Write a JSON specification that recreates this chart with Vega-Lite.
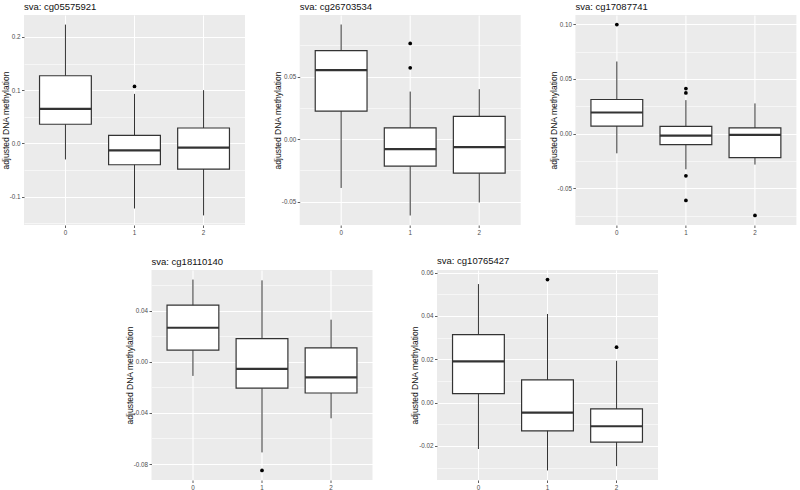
{
  "$schema": "https://vega.github.io/schema/vega-lite/v6.json",
  "padding": {"left": 1, "top": 1, "right": 0, "bottom": 0},
  "autosize": {"type": "pad"},
  "datasets": {
    "boxes": [
      {"probe": "cg05575921", "group": "0", "lower": -0.030, "q1": 0.036, "median": 0.065, "q3": 0.127, "upper": 0.223},
      {"probe": "cg05575921", "group": "1", "lower": -0.122, "q1": -0.040, "median": -0.013, "q3": 0.015, "upper": 0.093},
      {"probe": "cg05575921", "group": "2", "lower": -0.135, "q1": -0.048, "median": -0.008, "q3": 0.029, "upper": 0.100},
      {"probe": "cg26703534", "group": "0", "lower": -0.039, "q1": 0.0224, "median": 0.0551, "q3": 0.0707, "upper": 0.0916},
      {"probe": "cg26703534", "group": "1", "lower": -0.061, "q1": -0.0216, "median": -0.008, "q3": 0.009, "upper": 0.038},
      {"probe": "cg26703534", "group": "2", "lower": -0.0506, "q1": -0.0272, "median": -0.0064, "q3": 0.0182, "upper": 0.0399},
      {"probe": "cg17087741", "group": "0", "lower": -0.018, "q1": 0.0069, "median": 0.0193, "q3": 0.0312, "upper": 0.0659},
      {"probe": "cg17087741", "group": "1", "lower": -0.0326, "q1": -0.010, "median": -0.0018, "q3": 0.0066, "upper": 0.0306},
      {"probe": "cg17087741", "group": "2", "lower": -0.0283, "q1": -0.0219, "median": -0.0012, "q3": 0.0052, "upper": 0.0276},
      {"probe": "cg18110140", "group": "0", "lower": -0.0110, "q1": 0.0091, "median": 0.0267, "q3": 0.0444, "upper": 0.0644},
      {"probe": "cg18110140", "group": "1", "lower": -0.0709, "q1": -0.0206, "median": -0.0055, "q3": 0.0182, "upper": 0.0638},
      {"probe": "cg18110140", "group": "2", "lower": -0.0442, "q1": -0.0244, "median": -0.0122, "q3": 0.0109, "upper": 0.033},
      {"probe": "cg10765427", "group": "0", "lower": -0.0214, "q1": 0.0042, "median": 0.019, "q3": 0.0314, "upper": 0.0547},
      {"probe": "cg10765427", "group": "1", "lower": -0.0313, "q1": -0.0130, "median": -0.0046, "q3": 0.0105, "upper": 0.0409},
      {"probe": "cg10765427", "group": "2", "lower": -0.0293, "q1": -0.0182, "median": -0.0109, "q3": -0.0029, "upper": 0.0193}
    ],
    "outliers": [
      {"probe": "cg05575921", "group": "1", "value": 0.107},
      {"probe": "cg26703534", "group": "1", "value": 0.0765},
      {"probe": "cg26703534", "group": "1", "value": 0.057},
      {"probe": "cg17087741", "group": "0", "value": 0.0997},
      {"probe": "cg17087741", "group": "1", "value": 0.0412},
      {"probe": "cg17087741", "group": "1", "value": 0.0372},
      {"probe": "cg17087741", "group": "1", "value": -0.0385},
      {"probe": "cg17087741", "group": "1", "value": -0.061},
      {"probe": "cg17087741", "group": "2", "value": -0.0748},
      {"probe": "cg18110140", "group": "1", "value": -0.085},
      {"probe": "cg10765427", "group": "1", "value": 0.0568},
      {"probe": "cg10765427", "group": "2", "value": 0.0256}
    ]
  },
  "config": {
    "locale": {"number": {"decimal": ".", "thousands": ",", "grouping": [3], "currency": ["$", ""], "minus": "-"}},
    "view": {"fill": "#EBEBEB", "stroke": null},
    "font": "Liberation Sans",
    "axis": {
      "domain": false, "gridColor": "#FFFFFF", "tickColor": "#333333", "tickSize": 2.5, "tickWidth": 0.8,
      "labelColor": "#4D4D4D", "labelFontSize": 6.3, "labelPadding": 1.5, "labelFont": "Liberation Sans", "labelOverlap": false,
      "titleFontSize": 8.5, "titleFontWeight": "normal", "titleColor": "#111111", "titleFont": "Liberation Sans"
    },
    "title": {"anchor": "start", "fontSize": 9.5, "fontWeight": "normal", "color": "#111111", "offset": 4, "frame": "group", "font": "Liberation Sans"}
  },
  "spacing": 20,
  "vconcat": [
    {
      "spacing": 54.7,
      "bounds": "flush",
      "hconcat": [
        {
          "width": 221, "height": 210,
          "title": {"text": "sva: cg05575921"},
          "resolve": {"axis": {"y": "independent"}},
          "encoding": {"x": {"field": "group", "type": "nominal", "scale": {"type": "band", "paddingInner": 0, "paddingOuter": 0.1}, "axis": {"labelAngle": 0, "title": null, "grid": true, "gridWidth": 1.1, "bandPosition": 0.5}}},
          "layer": [
            {"data": {"name": "boxes"}, "transform": [{"filter": "datum.probe === 'cg05575921'"}],
             "mark": {"type": "rule", "color": "#333333", "strokeWidth": 1},
             "encoding": {"y": {"field": "lower", "type": "quantitative", "scale": {"domain": [-0.153, 0.241], "nice": false, "zero": false},
               "axis": {"orient": "right", "values": [0.15, 0.05, -0.05, -0.15], "labels": false, "ticks": false, "title": null, "grid": true, "gridWidth": 0.55}},
               "y2": {"field": "upper"}}},
            {"data": {"name": "boxes"}, "transform": [{"filter": "datum.probe === 'cg05575921'"}],
             "mark": {"type": "bar", "fill": "#FFFFFF", "stroke": "#333333", "strokeWidth": 1.2, "width": {"band": 0.75}},
             "encoding": {"y": {"field": "q1", "type": "quantitative", "axis": {"orient": "left", "values": [0.2, 0.1, 0, -0.1], "format": ".1f", "title": "adjusted DNA methylation", "titlePadding": -1, "grid": true, "gridWidth": 1.1}}, "y2": {"field": "q3"}}},
            {"data": {"name": "boxes"}, "transform": [{"filter": "datum.probe === 'cg05575921'"}],
             "mark": {"type": "tick", "color": "#333333", "thickness": 2.2, "size": 52, "opacity": 1},
             "encoding": {"y": {"field": "median", "type": "quantitative", "axis": null}}},
            {"data": {"name": "outliers"}, "transform": [{"filter": "datum.probe === 'cg05575921'"}],
             "mark": {"type": "circle", "color": "#000000", "size": 14, "opacity": 1},
             "encoding": {"y": {"field": "value", "type": "quantitative", "axis": null}}}
          ]
        },
        {
          "width": 221, "height": 210,
          "title": {"text": "sva: cg26703534"},
          "resolve": {"axis": {"y": "independent"}},
          "encoding": {"x": {"field": "group", "type": "nominal", "scale": {"type": "band", "paddingInner": 0, "paddingOuter": 0.1}, "axis": {"labelAngle": 0, "title": null, "grid": true, "gridWidth": 1.1, "bandPosition": 0.5}}},
          "layer": [
            {"data": {"name": "boxes"}, "transform": [{"filter": "datum.probe === 'cg26703534'"}],
             "mark": {"type": "rule", "color": "#333333", "strokeWidth": 1},
             "encoding": {"y": {"field": "lower", "type": "quantitative", "scale": {"domain": [-0.0686, 0.0992], "nice": false, "zero": false},
               "axis": {"orient": "right", "values": [0.075, 0.025, -0.025], "labels": false, "ticks": false, "title": null, "grid": true, "gridWidth": 0.55}},
               "y2": {"field": "upper"}}},
            {"data": {"name": "boxes"}, "transform": [{"filter": "datum.probe === 'cg26703534'"}],
             "mark": {"type": "bar", "fill": "#FFFFFF", "stroke": "#333333", "strokeWidth": 1.2, "width": {"band": 0.75}},
             "encoding": {"y": {"field": "q1", "type": "quantitative", "axis": {"orient": "left", "values": [0.05, 0, -0.05], "format": ".2f", "title": "adjusted DNA methylation", "titlePadding": -1, "grid": true, "gridWidth": 1.1}}, "y2": {"field": "q3"}}},
            {"data": {"name": "boxes"}, "transform": [{"filter": "datum.probe === 'cg26703534'"}],
             "mark": {"type": "tick", "color": "#333333", "thickness": 2.2, "size": 52, "opacity": 1},
             "encoding": {"y": {"field": "median", "type": "quantitative", "axis": null}}},
            {"data": {"name": "outliers"}, "transform": [{"filter": "datum.probe === 'cg26703534'"}],
             "mark": {"type": "circle", "color": "#000000", "size": 14, "opacity": 1},
             "encoding": {"y": {"field": "value", "type": "quantitative", "axis": null}}}
          ]
        },
        {
          "width": 221, "height": 210,
          "title": {"text": "sva: cg17087741"},
          "resolve": {"axis": {"y": "independent"}},
          "encoding": {"x": {"field": "group", "type": "nominal", "scale": {"type": "band", "paddingInner": 0, "paddingOuter": 0.1}, "axis": {"labelAngle": 0, "title": null, "grid": true, "gridWidth": 1.1, "bandPosition": 0.5}}},
          "layer": [
            {"data": {"name": "boxes"}, "transform": [{"filter": "datum.probe === 'cg17087741'"}],
             "mark": {"type": "rule", "color": "#333333", "strokeWidth": 1},
             "encoding": {"y": {"field": "lower", "type": "quantitative", "scale": {"domain": [-0.0835, 0.1084], "nice": false, "zero": false},
               "axis": {"orient": "right", "values": [0.075, 0.025, -0.025, -0.075], "labels": false, "ticks": false, "title": null, "grid": true, "gridWidth": 0.55}},
               "y2": {"field": "upper"}}},
            {"data": {"name": "boxes"}, "transform": [{"filter": "datum.probe === 'cg17087741'"}],
             "mark": {"type": "bar", "fill": "#FFFFFF", "stroke": "#333333", "strokeWidth": 1.2, "width": {"band": 0.75}},
             "encoding": {"y": {"field": "q1", "type": "quantitative", "axis": {"orient": "left", "values": [0.1, 0.05, 0, -0.05], "format": ".2f", "title": "adjusted DNA methylation", "titlePadding": -1, "grid": true, "gridWidth": 1.1}}, "y2": {"field": "q3"}}},
            {"data": {"name": "boxes"}, "transform": [{"filter": "datum.probe === 'cg17087741'"}],
             "mark": {"type": "tick", "color": "#333333", "thickness": 2.2, "size": 52, "opacity": 1},
             "encoding": {"y": {"field": "median", "type": "quantitative", "axis": null}}},
            {"data": {"name": "outliers"}, "transform": [{"filter": "datum.probe === 'cg17087741'"}],
             "mark": {"type": "circle", "color": "#000000", "size": 14, "opacity": 1},
             "encoding": {"y": {"field": "value", "type": "quantitative", "axis": null}}}
          ]
        }
      ]
    },
    {
      "spacing": 64.5,
      "bounds": "flush",
      "hconcat": [
        {"width": 62.5, "height": 210, "view": {"fill": "transparent", "stroke": null}, "data": {"values": []}, "mark": "text"},
        {
          "width": 221, "height": 210,
          "title": {"text": "sva: cg18110140"},
          "resolve": {"axis": {"y": "independent"}},
          "encoding": {"x": {"field": "group", "type": "nominal", "scale": {"type": "band", "paddingInner": 0, "paddingOuter": 0.1}, "axis": {"labelAngle": 0, "title": null, "grid": true, "gridWidth": 1.1, "bandPosition": 0.5}}},
          "layer": [
            {"data": {"name": "boxes"}, "transform": [{"filter": "datum.probe === 'cg18110140'"}],
             "mark": {"type": "rule", "color": "#333333", "strokeWidth": 1},
             "encoding": {"y": {"field": "lower", "type": "quantitative", "scale": {"domain": [-0.0925, 0.0719], "nice": false, "zero": false},
               "axis": {"orient": "right", "values": [0.06, 0.02, -0.02, -0.06], "labels": false, "ticks": false, "title": null, "grid": true, "gridWidth": 0.55}},
               "y2": {"field": "upper"}}},
            {"data": {"name": "boxes"}, "transform": [{"filter": "datum.probe === 'cg18110140'"}],
             "mark": {"type": "bar", "fill": "#FFFFFF", "stroke": "#333333", "strokeWidth": 1.2, "width": {"band": 0.75}},
             "encoding": {"y": {"field": "q1", "type": "quantitative", "axis": {"orient": "left", "values": [0.04, 0, -0.04, -0.08], "format": ".2f", "title": "adjusted DNA methylation", "titlePadding": -1, "grid": true, "gridWidth": 1.1}}, "y2": {"field": "q3"}}},
            {"data": {"name": "boxes"}, "transform": [{"filter": "datum.probe === 'cg18110140'"}],
             "mark": {"type": "tick", "color": "#333333", "thickness": 2.2, "size": 52, "opacity": 1},
             "encoding": {"y": {"field": "median", "type": "quantitative", "axis": null}}},
            {"data": {"name": "outliers"}, "transform": [{"filter": "datum.probe === 'cg18110140'"}],
             "mark": {"type": "circle", "color": "#000000", "size": 14, "opacity": 1},
             "encoding": {"y": {"field": "value", "type": "quantitative", "axis": null}}}
          ]
        },
        {
          "width": 221, "height": 210,
          "title": {"text": "sva: cg10765427"},
          "resolve": {"axis": {"y": "independent"}},
          "encoding": {"x": {"field": "group", "type": "nominal", "scale": {"type": "band", "paddingInner": 0, "paddingOuter": 0.1}, "axis": {"labelAngle": 0, "title": null, "grid": true, "gridWidth": 1.1, "bandPosition": 0.5}}},
          "layer": [
            {"data": {"name": "boxes"}, "transform": [{"filter": "datum.probe === 'cg10765427'"}],
             "mark": {"type": "rule", "color": "#333333", "strokeWidth": 1},
             "encoding": {"y": {"field": "lower", "type": "quantitative", "scale": {"domain": [-0.0357, 0.0612], "nice": false, "zero": false},
               "axis": {"orient": "right", "values": [0.05, 0.03, 0.01, -0.01, -0.03], "labels": false, "ticks": false, "title": null, "grid": true, "gridWidth": 0.55}},
               "y2": {"field": "upper"}}},
            {"data": {"name": "boxes"}, "transform": [{"filter": "datum.probe === 'cg10765427'"}],
             "mark": {"type": "bar", "fill": "#FFFFFF", "stroke": "#333333", "strokeWidth": 1.2, "width": {"band": 0.75}},
             "encoding": {"y": {"field": "q1", "type": "quantitative", "axis": {"orient": "left", "values": [0.06, 0.04, 0.02, 0, -0.02], "format": ".2f", "title": "adjusted DNA methylation", "titlePadding": -1, "grid": true, "gridWidth": 1.1}}, "y2": {"field": "q3"}}},
            {"data": {"name": "boxes"}, "transform": [{"filter": "datum.probe === 'cg10765427'"}],
             "mark": {"type": "tick", "color": "#333333", "thickness": 2.2, "size": 52, "opacity": 1},
             "encoding": {"y": {"field": "median", "type": "quantitative", "axis": null}}},
            {"data": {"name": "outliers"}, "transform": [{"filter": "datum.probe === 'cg10765427'"}],
             "mark": {"type": "circle", "color": "#000000", "size": 14, "opacity": 1},
             "encoding": {"y": {"field": "value", "type": "quantitative", "axis": null}}}
          ]
        }
      ]
    }
  ]
}
